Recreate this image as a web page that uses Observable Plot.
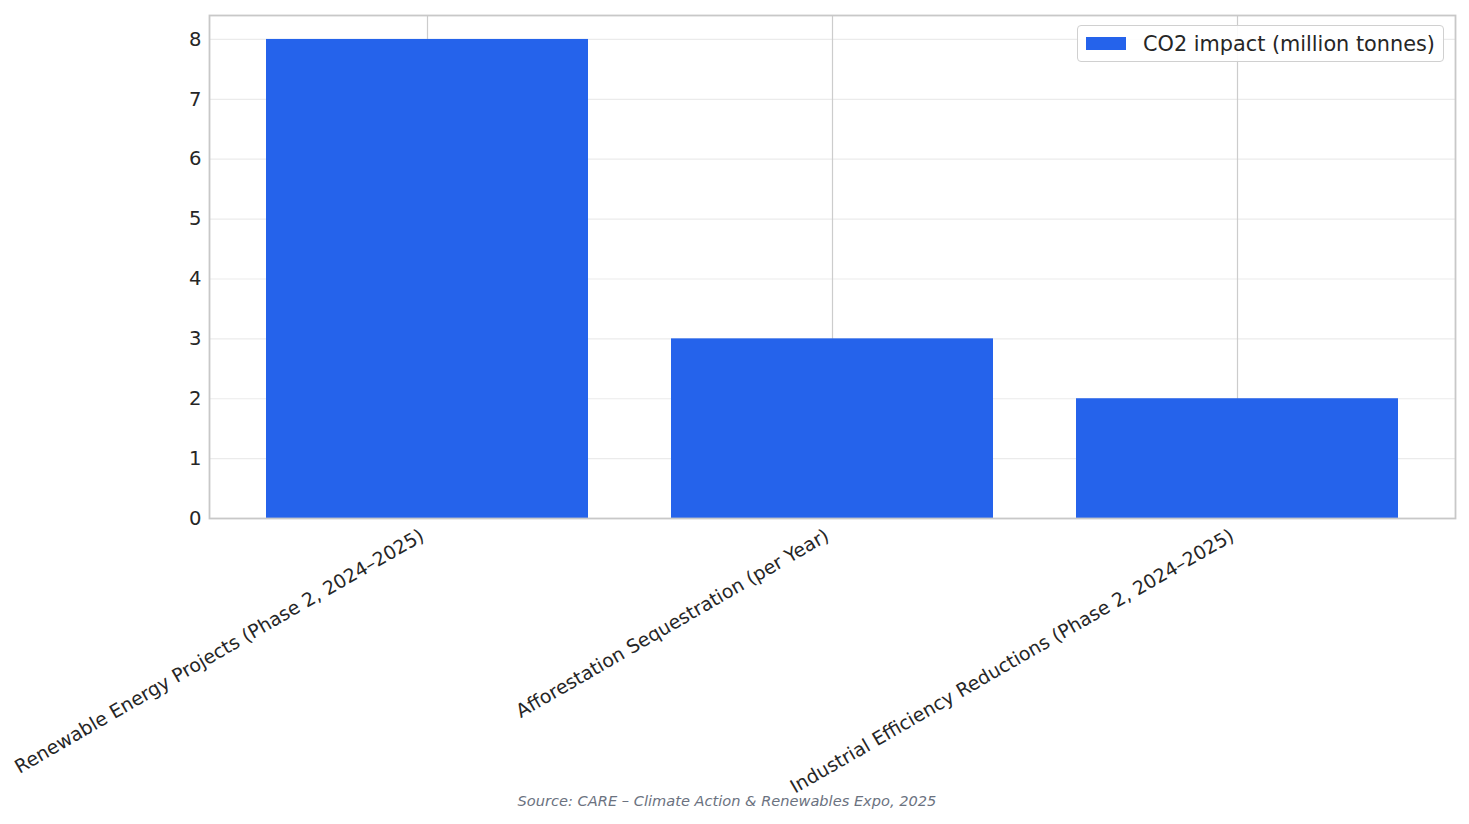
<!DOCTYPE html>
<html>
<head>
<meta charset="utf-8">
<script src="https://cdn.jsdelivr.net/npm/d3@7"></script>
<script src="https://cdn.jsdelivr.net/npm/@observablehq/plot@0.6"></script>
<style>
  html, body { margin: 0; padding: 0; background: #fff; }
  #wrap { position: relative; width: 1469px; height: 824px; font-family: "DejaVu Sans", sans-serif; }
  #legend { position: absolute; left: 1077px; top: 25px; width: 367px; height: 37px; border: 1.5px solid #d0d0d0; border-radius: 4px; background: rgba(255,255,255,0.9); box-sizing: border-box; display: flex; align-items: center; }
  #legend .sw { width: 40px; height: 13px; background: #2563EB; margin-left: 8px; margin-right: 17px; }
  #legend .lb { font-size: 20.8px; color: #262626; }
  #caption { position: absolute; left: 0; width: 1454px; top: 792px; text-align: center; font-style: italic; font-size: 14.6px; color: #6b7280; }
</style>
</head>
<body>
<div id="wrap"></div>
<script>
const categories = [
  "Renewable Energy Projects (Phase 2, 2024–2025)",
  "Afforestation Sequestration (per Year)",
  "Industrial Efficiency Reductions (Phase 2, 2024–2025)"
];
const co2Impact = [8, 3, 2];
const yTicks = [0, 1, 2, 3, 4, 5, 6, 7, 8];
const seriesName = "CO2 impact (million tonnes)";
const sourceText = "Source: CARE – Climate Action & Renewables Expo, 2025";

const data = categories.map((c, i) => ({category: c, value: co2Impact[i]}));

const chart = Plot.plot({
  width: 1469,
  height: 824,
  marginLeft: 209,
  marginRight: 14,
  marginTop: 15,
  marginBottom: 306,
  style: {fontFamily: "DejaVu Sans, sans-serif", color: "#262626", background: "#fff"},
  x: {domain: categories, paddingInner: 0.204, paddingOuter: 0.14, axis: null, label: null},
  y: {domain: [0, 8.4], axis: null, label: null},
  marks: [
    Plot.gridY(yTicks, {stroke: "#ebebeb", strokeOpacity: 1, strokeWidth: 1.2}),
    Plot.gridX(categories, {stroke: "#cccccc", strokeOpacity: 1, strokeWidth: 1.2}),
    Plot.barY(data, {x: "category", y: "value", fill: "#2563EB"}),
    Plot.frame({stroke: "#c8c8c8", strokeWidth: 1.8}),
    Plot.axisY(yTicks, {tickSize: 0, tickPadding: 8, fontSize: 19.6, tickFormat: d => String(d), fill: "#262626", label: null}),
    Plot.text(categories, {x: d => d, frameAnchor: "bottom", text: d => d, rotate: -30, textAnchor: "end", lineAnchor: "bottom", dy: 21, dx: -2, fontSize: 18.9, fill: "#262626"})
  ]
});

const wrap = document.getElementById("wrap");
wrap.appendChild(chart);
const legend = document.createElement("div");
legend.id = "legend";
legend.innerHTML = `<div class="sw"></div><div class="lb"></div>`;
legend.querySelector(".lb").textContent = seriesName;
wrap.appendChild(legend);
const cap = document.createElement("div");
cap.id = "caption";
cap.textContent = sourceText;
wrap.appendChild(cap);
</script>
</body>
</html>
